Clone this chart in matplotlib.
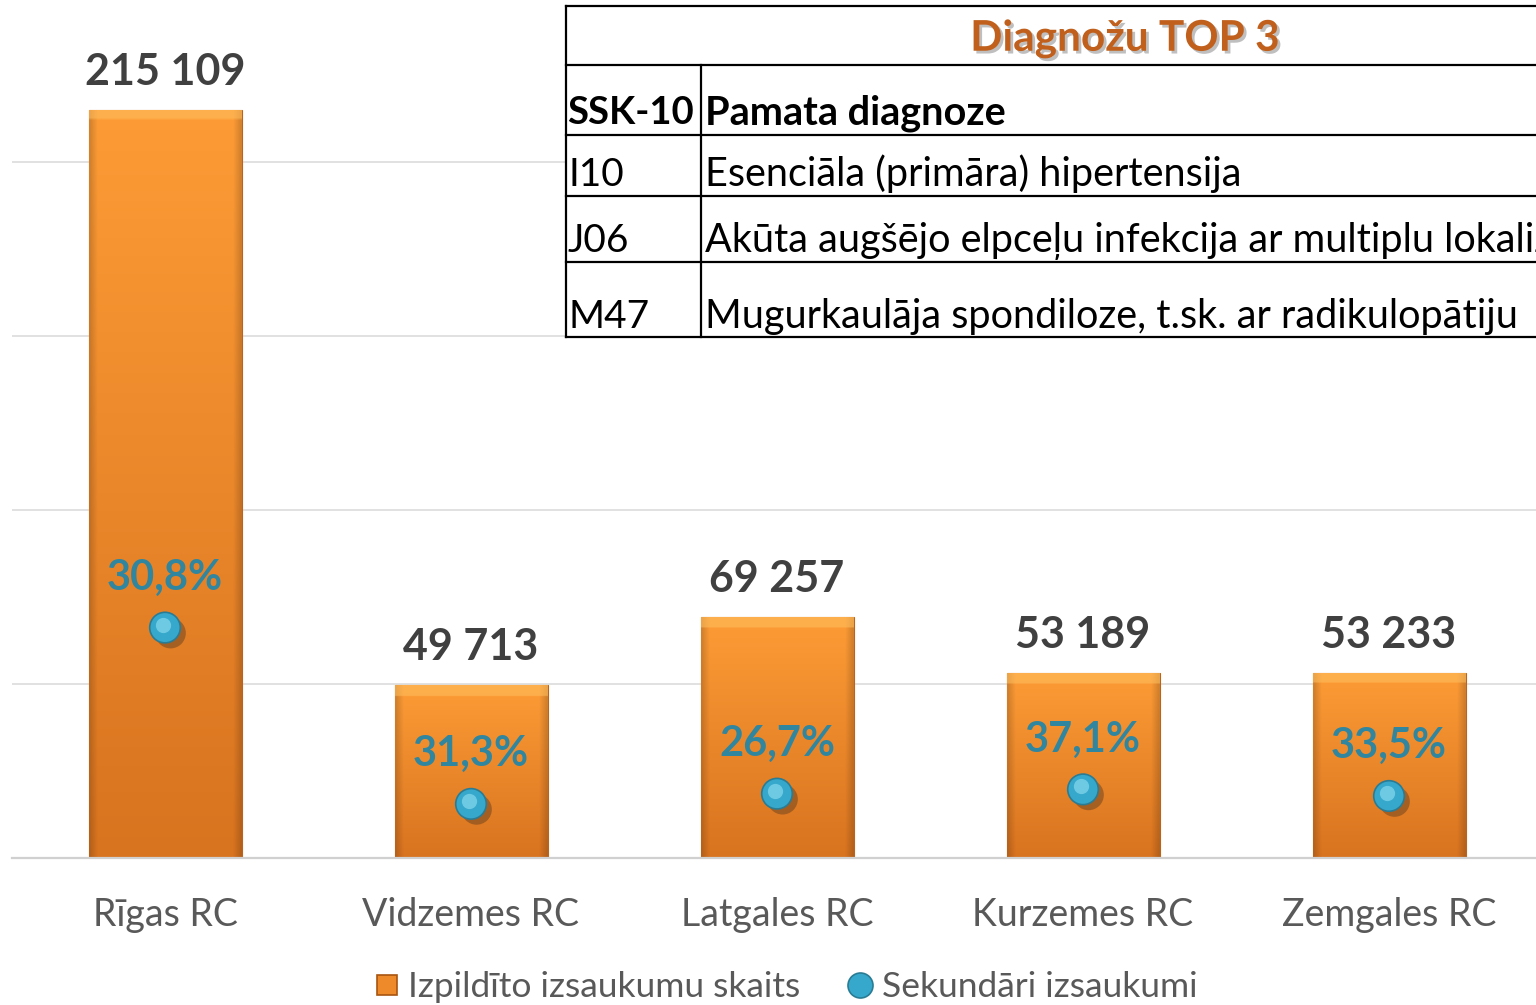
import numpy as np
import matplotlib

matplotlib.use("Agg")
import matplotlib.pyplot as plt
import matplotlib.patheffects as pe
from matplotlib.colors import to_rgb
from matplotlib.lines import Line2D
from matplotlib.transforms import offset_copy

plt.rcParams["font.family"] = ["Lato", "DejaVu Sans"]

# data
regions = ["Rīgas RC", "Vidzemes RC", "Latgales RC", "Kurzemes RC", "Zemgales RC"]
calls_done = [215109, 49713, 69257, 53189, 53233]
secondary_pct = [30.8, 31.3, 26.7, 37.1, 33.5]
secondary_calls = [66254, 15560, 18492, 19733, 17833]

table_title = "Diagnožu TOP 3"
table_head = ["SSK-10", "Pamata diagnoze"]
icd_codes = ["I10", "J06", "M47"]
diagnoses = [
    "Esenciāla (primāra) hipertensija",
    "Akūta augšējo elpceļu infekcija ar multiplu lokalizāciju",
    "Mugurkaulāja spondiloze, t.sk. ar radikulopātiju",
]

legend_labels = ["Izpildīto izsaukumu skaits", "Sekundāri izsaukumi"]

W, H = 1536, 1005
fig = plt.figure(figsize=(W / 100, H / 100), dpi=100)
fig.patch.set_facecolor("white")

# main axes: a bit wider than the canvas, like the cropped original
ax = fig.add_axes([12 / W, 147 / H, 1530 / W, 858 / H])
ymax = 246700
ax.set_xlim(-0.5, 4.5)
ax.set_ylim(0, ymax)
for s in ["top", "right", "left"]:
    ax.spines[s].set_visible(False)
ax.spines["bottom"].set_color("#d0d0d0")
ax.spines["bottom"].set_linewidth(1.6)
ax.set_yticks([50000, 100000, 150000, 200000])
ax.set_yticklabels([])
ax.tick_params(axis="y", length=0)
ax.grid(axis="y", color="#dcdcdc", linewidth=1.2)
ax.set_axisbelow(True)

x = np.arange(len(regions))
bars = ax.bar(x, calls_done, width=0.5, color="#ef8a2a", edgecolor="#b8641c",
              linewidth=0.8, zorder=2)

# orange gradient fill with darker sides and a light top bevel
top_c = np.array(to_rgb("#fd9c36"))
bot_c = np.array(to_rgb("#d8731f"))
bevel_c = np.array(to_rgb("#ffc060"))
px_per_unit = 858 / ymax
for b in bars:
    h = b.get_height()
    n, m = 300, 60
    t = np.linspace(0, 1, n)[:, None, None]
    img = top_c * (1 - t) + bot_c * t
    img = np.repeat(img, m, axis=1)
    u = np.linspace(0, 1, m)
    side = np.minimum(u, 1 - u)
    shade = np.where(side < 0.05, 0.84 + side / 0.05 * 0.16, 1.0)
    img = img * shade[None, :, None]
    bevel_rows = max(1, int(n * (11 / px_per_unit) / h))
    img[:bevel_rows] = bevel_c * 0.55 + img[:bevel_rows] * 0.45
    im = ax.imshow(img.clip(0, 1), extent=[b.get_x(), b.get_x() + b.get_width(), 0, h],
                   aspect="auto", origin="upper", zorder=2.1, interpolation="bilinear")
    im.set_clip_path(b)
ax.set_xlim(-0.5, 4.5)
ax.set_ylim(0, ymax)

ax.plot(x, secondary_calls, "o", ms=22, mfc="#36a8cb", mec="#2a7c94", mew=1.2, zorder=4,
        path_effects=[pe.SimplePatchShadow(offset=(4, -4), shadow_rgbFace="#5a3a20", alpha=0.45),
                      pe.Normal()])
hl = offset_copy(ax.transData, fig=fig, x=-2, y=3, units="dots")
ax.plot(x, secondary_calls, "o", ms=11, mfc="#86d8ee", mec="none", alpha=0.7, zorder=5,
        transform=hl)

for xi, v in zip(x, calls_done):
    ax.annotate(f"{v:,}".replace(",", " "), (xi, v), xytext=(0, 13), textcoords="offset points",
                ha="center", va="bottom", fontsize=31, fontweight="bold", color="#404040")
for xi, v, p in zip(x, secondary_calls, secondary_pct):
    ax.annotate(f"{p:.1f}%".replace(".", ","), (xi, v), xytext=(0, 22), textcoords="offset points",
                ha="center", va="bottom", fontsize=30, fontweight="bold", color="#31869f", zorder=6)

ax.set_xticks(x)
ax.set_xticklabels(regions, fontsize=27, color="#595959")
ax.tick_params(axis="x", length=0, pad=28)

# legend
handles = [
    Line2D([], [], marker="s", ls="", ms=14, mfc="#ef8a2a", mec="#a85510", mew=1.2),
    Line2D([], [], marker="o", ls="", ms=18, mfc="#36a8cb", mec="#2a7c94", mew=1.2),
]
fig.legend(handles, legend_labels, loc="center", bbox_to_anchor=(783 / W, 1 - 987 / H),
           ncol=2, frameon=False, fontsize=25.5, labelcolor="#595959", handletextpad=0.1,
           columnspacing=1.2, handlelength=1.0)

# diagnosis table overlay, drawn in pixel coordinates
tax = fig.add_axes([0, 0, 1, 1], zorder=5)
tax.set_xlim(0, W)
tax.set_ylim(H, 0)
tax.axis("off")
left, right, top = 566, W + 20, 6
row_lines = [65, 135, 196, 262, 337]
col_x = 701
lw = 1.6
tax.fill_between([left, right], top, row_lines[-1], color="white", zorder=1)
tax.plot([left, right], [top, top], color="black", lw=lw, zorder=2)
for y in row_lines:
    tax.plot([left, right], [y, y], color="black", lw=lw, zorder=2)
tax.plot([left, left], [top, row_lines[-1]], color="black", lw=lw, zorder=2)
tax.plot([col_x, col_x], [row_lines[0], row_lines[-1]], color="black", lw=lw, zorder=2)

tax.text(1125, 39, table_title, ha="center", va="center", fontsize=30.5, fontweight="bold",
         color="#c0601c", zorder=3,
         path_effects=[pe.SimplePatchShadow(offset=(2, -2), shadow_rgbFace="#808080", alpha=0.5),
                       pe.Normal()])
tax.text(left + 1, 124, table_head[0], ha="left", va="baseline", fontsize=27.5,
         fontweight="bold", color="black", zorder=3)
tax.text(col_x + 4, 124, table_head[1], ha="left", va="baseline", fontsize=28.5,
         fontweight="bold", color="black", zorder=3)
baselines = [186, 252, 328]
for yb, code, diag in zip(baselines, icd_codes, diagnoses):
    tax.text(left + 2, yb, code, ha="left", va="baseline", fontsize=28, color="black", zorder=3)
    tax.text(col_x + 4, yb, diag, ha="left", va="baseline", fontsize=28.5, color="black", zorder=3)

fig.savefig("out.png", dpi=100)
